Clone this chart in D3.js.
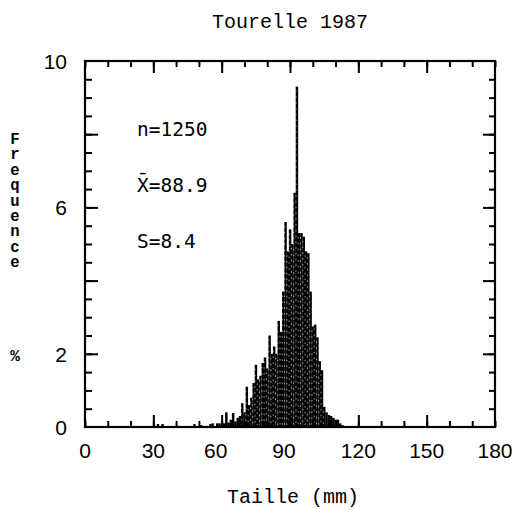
<!DOCTYPE html>
<html><head><meta charset="utf-8">
<script src="https://cdn.jsdelivr.net/npm/d3@7"></script>
<style>body{margin:0;background:#fff}</style>
</head><body><svg id="c" width="520" height="514"></svg>
<script>
// ---- data ----
const sizeClasses = [32,34,48,51,55,56,58,59,
  61,62,63,64,65,66,67,68,69,70,71,72,73,74,75,76,77,78,79,80,81,82,83,84,85,86,87,88,89,90,
  91,92,93,94,95,96,97,98,99,100,101,102,103,104,105,106,107,108,109,110,111,112,113];
const frequencies = [0.08,0.08,0.08,0.05,0.08,0.1,0.1,0.1,
  0.1,0.4,0.12,0.2,0.38,0.15,0.25,0.3,0.65,0.4,1.1,0.6,0.8,1.2,1.7,1.3,1.4,1.75,1.9,1.6,2.5,2.0,2.2,2.0,2.9,2.6,3.7,5.6,4.8,5.4,
  5.0,6.4,9.3,5.3,5.3,5.2,4.8,4.75,3.7,2.75,2.8,2.45,1.8,1.55,0.55,0.4,0.33,0.3,0.25,0.2,0.2,0.1,0.05];
const xTickLabels = [0,30,60,90,120,150,180];
const xMinorTicks = d3.range(0,181,10);
const xMajorTicks = [30,60,90,120,150];
const yTickLabels = [0,2,6,10];
const yMinorTicks = d3.range(0.5,10,0.5);
const yMajorTicks = [2,4,6,8];
const title = "Tourelle 1987";
const xTitle = "Taille (mm)";
const yTitle = "Frequence";
const yUnit = "%";
const stats = ["n=1250","X\u0304=88.9","S=8.4"];

// ---- layout ----
const L=85,R=495,T=61,B=427;
const svg=d3.select("#c");
const x=d3.scaleLinear().domain([0,180]).range([L,R]);
const y=d3.scaleLinear().domain([0,10]).range([B,T]);
const bw = x(1)-x(0);
const mono="'Liberation Mono','DejaVu Sans Mono',monospace";
const sans="'Liberation Sans',Arial,sans-serif";

// bars
const data = sizeClasses.map((c,i)=>({c,f:frequencies[i]}));
svg.append("g").selectAll("rect").data(data).join("rect")
  .attr("x",d=>x(d.c-0.5)).attr("width",bw+0.2)
  .attr("y",d=>y(d.f)).attr("height",d=>B-y(d.f))
  .attr("fill","#000");
svg.append("g").selectAll("line").data(data.filter(d=>d.f>0.4)).join("line")
  .attr("x1",d=>x(d.c-0.5)+0.3).attr("x2",d=>x(d.c-0.5)+0.3)
  .attr("y1",d=>y(d.f)+4).attr("y2",B-2)
  .attr("stroke","#fff").attr("stroke-width",0.6).attr("stroke-dasharray","1.6 4.2");

// ticks
function ticks(axisFn, scale, vals, size, transform){
  const g=svg.append("g").attr("transform",transform)
    .call(axisFn(scale).tickValues(vals).tickSize(size).tickFormat(""));
  g.select(".domain").remove();
  g.selectAll("line").attr("stroke","#000").attr("stroke-width",2);
}
ticks(d3.axisBottom,x,xMinorTicks,-6,`translate(0,${B})`);
ticks(d3.axisBottom,x,xMajorTicks,-12,`translate(0,${B})`);
ticks(d3.axisTop,x,xMinorTicks,-6,`translate(0,${T})`);
ticks(d3.axisTop,x,xMajorTicks,-12,`translate(0,${T})`);
ticks(d3.axisLeft,y,yMinorTicks,-7,`translate(${L},0)`);
ticks(d3.axisLeft,y,yMajorTicks,-13,`translate(${L},0)`);
ticks(d3.axisRight,y,yMinorTicks,-6,`translate(${R},0)`);
ticks(d3.axisRight,y,yMajorTicks,-12,`translate(${R},0)`);

// frame
svg.append("rect").attr("x",L).attr("y",T).attr("width",R-L).attr("height",B-T)
  .attr("fill","none").attr("stroke","#000").attr("stroke-width",2.2);

// tick labels
const nudge = v => (v===60||v===90) ? -6 : 0;
svg.append("g").selectAll("text").data(xTickLabels).join("text")
  .attr("x",d=>x(d)+nudge(d)).attr("y",458).attr("text-anchor","middle")
  .attr("font-family",sans).attr("font-size",21).text(d=>d);
svg.append("g").selectAll("text").data(yTickLabels).join("text")
  .attr("x",67).attr("y",d=>y(d)+8).attr("text-anchor","end")
  .attr("font-family",sans).attr("font-size",21).text(d=>d);

// titles
svg.append("text").attr("x",290).attr("y",28).attr("text-anchor","middle")
  .attr("font-family",mono).attr("font-size",20).text(title);
svg.append("text").attr("x",293).attr("y",503).attr("text-anchor","middle")
  .attr("font-family",mono).attr("font-size",20).text(xTitle);
svg.append("text").attr("x",15).attr("y",131)
  .attr("font-family",mono).attr("font-size",15.6).attr("font-weight","bold")
  .attr("writing-mode","tb").style("text-orientation","upright")
  .attr("letter-spacing","-2.6px")
  .text(yTitle);
svg.append("text").attr("x",15).attr("y",361).attr("text-anchor","middle")
  .attr("font-family",mono).attr("font-size",16).attr("font-weight","bold").text(yUnit);

// stats
stats.forEach((s,i)=>{
  svg.append("text").attr("x",137).attr("y",[136,192,248][i])
    .attr("font-family","'DejaVu Sans Mono',monospace").attr("font-size",19.5).text(s);
});
</script></body></html>
